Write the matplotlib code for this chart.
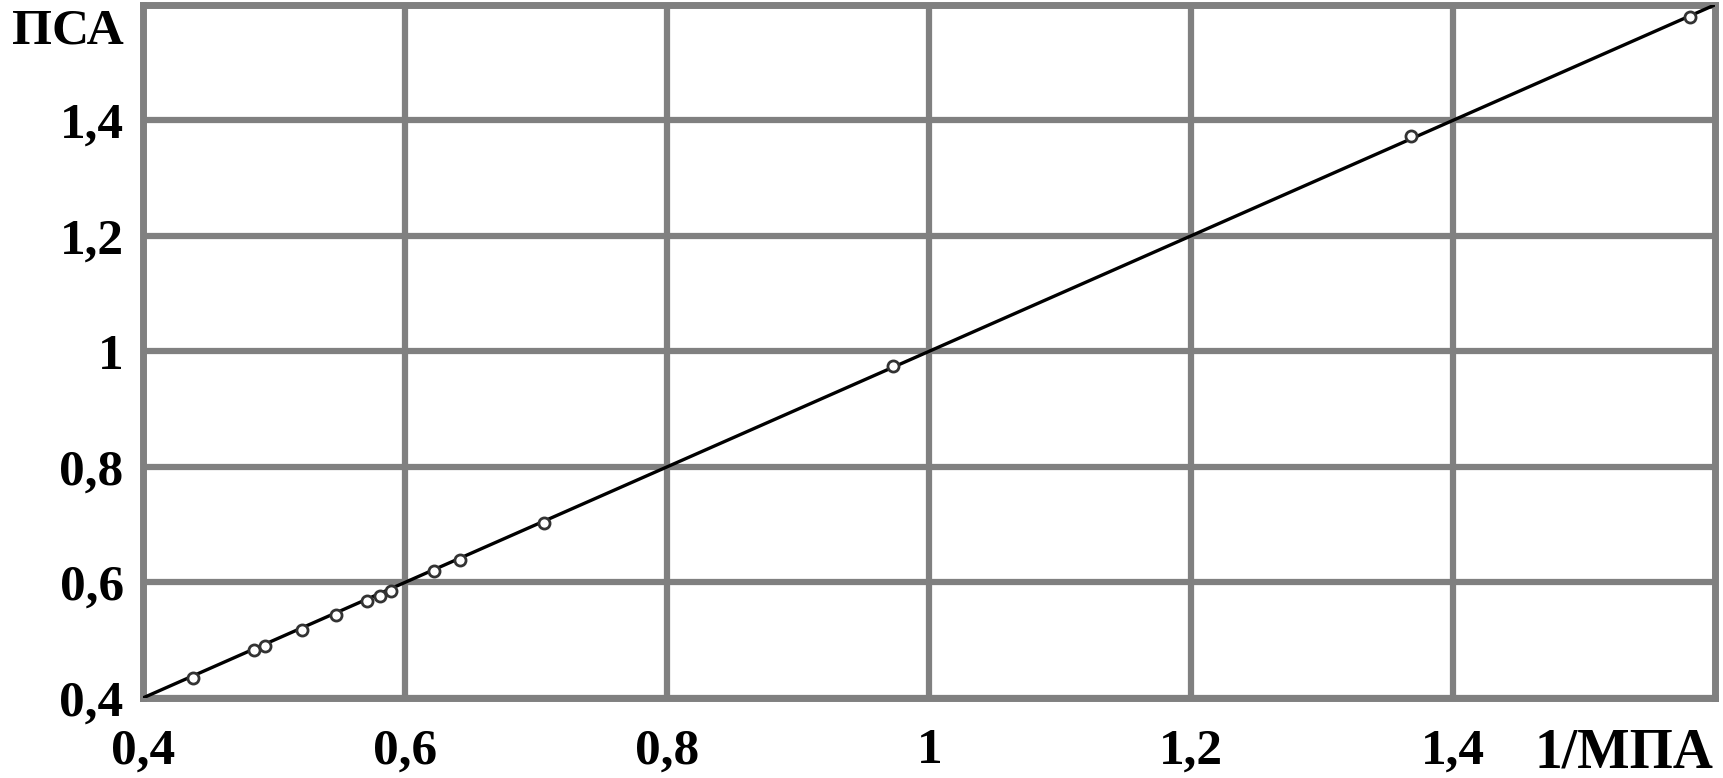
import matplotlib.pyplot as plt

# measured points (1/MPA vs PSA)
x_pts = [0.438, 0.485, 0.493, 0.521, 0.547, 0.571, 0.581, 0.589, 0.622, 0.642, 0.706, 0.972, 1.368, 1.581]
y_pts = [0.434, 0.482, 0.490, 0.518, 0.543, 0.567, 0.577, 0.585, 0.619, 0.638, 0.703, 0.975, 1.372, 1.578]

# fitted line
fit_x = [0.4, 1.6]
fit_y = [0.4, 1.6]

x_ticks = [0.4, 0.6, 0.8, 1.0, 1.2, 1.4]
x_labels = ['0,4', '0,6', '0,8', '1', '1,2', '1,4']
y_ticks = [0.4, 0.6, 0.8, 1.0, 1.2, 1.4]
y_labels = ['0,4', '0,6', '0,8', '1', '1,2', '1,4']

plt.rcParams['font.family'] = ['Liberation Serif', 'DejaVu Serif']
plt.rcParams['font.weight'] = 'bold'

fig = plt.figure(figsize=(17.24, 7.78), dpi=100)
ax = fig.add_axes([0.083, 0.103, 0.912, 0.891])

grid_col = '#808080'
ax.set_xlim(0.4, 1.6)
ax.set_ylim(0.4, 1.6)
ax.set_xticks(x_ticks)
ax.set_xticklabels(x_labels)
ax.set_yticks(y_ticks)
ax.set_yticklabels(y_labels)
ax.tick_params(length=0, labelsize=37, pad=14)
ax.tick_params(axis='x', pad=22)
ax.grid(True, color=grid_col, linewidth=4.5)
ax.set_axisbelow(True)
for s in ax.spines.values():
    s.set_color(grid_col)
    s.set_linewidth(5)

ax.plot(fit_x, fit_y, color='black', linewidth=2.4, zorder=3)
ax.plot(x_pts, y_pts, linestyle='none', marker='o', markersize=8,
        markerfacecolor='white', markeredgecolor='#333333', markeredgewidth=2, zorder=4)

ax.text(0.999, -0.043, '1/МПА', transform=ax.transAxes, ha='right', va='top',
        fontsize=40, fontweight='bold')
ax.text(-0.012, 0.962, 'ПСА', transform=ax.transAxes, ha='right', va='center',
        fontsize=37, fontweight='bold')

fig.savefig('out.png', dpi=100)
